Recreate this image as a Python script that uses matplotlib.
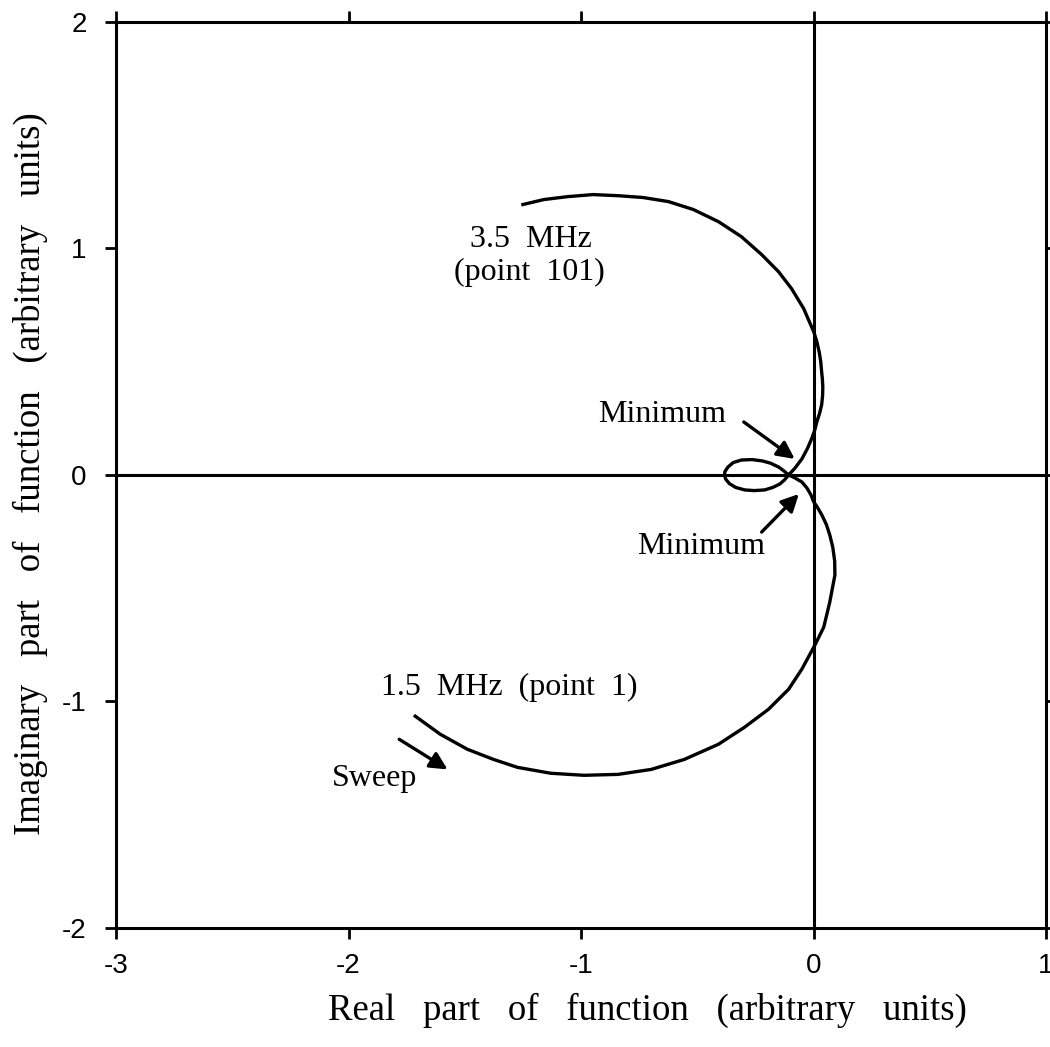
import matplotlib
matplotlib.use('Agg')
import matplotlib.pyplot as plt

# ── Data (real / imaginary part, sweep order) ────────────────────────────────
re_part = [-1.713, -1.605, -1.489, -1.376, -1.273, -1.130, -0.988, -0.841,
           -0.698, -0.556, -0.409, -0.297, -0.193, -0.107, -0.050, 0.006,
           0.044, 0.070, 0.092, 0.091, 0.083, 0.070, 0.055, 0.036, 0.018,
           0.000, -0.010, -0.028, -0.050, -0.080, -0.107,
           -0.130, -0.150, -0.185, -0.220, -0.265, -0.310, -0.345, -0.368,
           -0.381, -0.383, -0.378, -0.362, -0.335, -0.296, -0.255, -0.210,
           -0.175, -0.145, -0.125, -0.107,
           -0.080, -0.050, -0.027, -0.008, 0.005, 0.014, 0.026, 0.035, 0.039,
           0.040, 0.038, 0.035, 0.031, 0.025, 0.014, 0.001, -0.042, -0.094,
           -0.150, -0.223, -0.310, -0.408, -0.517, -0.624, -0.733, -0.840,
           -0.948, -1.056, -1.160, -1.250]
im_part = [-1.065, -1.145, -1.211, -1.256, -1.291, -1.317, -1.326, -1.322,
           -1.300, -1.256, -1.189, -1.114, -1.034, -0.946, -0.857, -0.751,
           -0.672, -0.561, -0.442, -0.380, -0.320, -0.265, -0.218, -0.177,
           -0.145, -0.117, -0.090, -0.058, -0.031, -0.013, 0.000,
           0.020, 0.035, 0.052, 0.062, 0.068, 0.066, 0.055, 0.035,
           0.015, 0.000, -0.018, -0.038, -0.055, -0.066, -0.069, -0.066,
           -0.055, -0.040, -0.022, 0.000,
           0.030, 0.071, 0.115, 0.160, 0.197, 0.234, 0.272, 0.310, 0.350,
           0.390, 0.425, 0.455, 0.500, 0.540, 0.590, 0.632, 0.734, 0.822,
           0.897, 0.973, 1.052, 1.118, 1.172, 1.207, 1.225, 1.233,
           1.238, 1.229, 1.216, 1.194]

x_ticks = [-3, -2, -1, 0, 1]
y_ticks = [-2, -1, 0, 1, 2]

SERIF = ['Liberation Serif', 'DejaVu Serif']
SANS = ['Liberation Sans', 'DejaVu Sans']

fig = plt.figure(figsize=(10.5, 10.47), dpi=100)
ax = fig.add_axes([0.1105, 0.1137, 0.8857, 0.8653])

ax.plot(re_part, im_part, color='black', lw=2.4, solid_joinstyle='round', zorder=3)
ax.axhline(0, color='black', lw=2.2, zorder=2)
ax.axvline(0, color='black', lw=2.2, zorder=2)

ax.set_xlim(-3, 1)
ax.set_ylim(-2, 2)
ax.set_xticks(x_ticks)
ax.set_yticks(y_ticks)
ax.set_xticklabels([str(t) for t in x_ticks], family=SANS, fontsize=20)
ax.set_yticklabels([str(t) for t in y_ticks], family=SANS, fontsize=20)
ax.tick_params(direction='out', length=8, width=2, top=True, right=True,
               labeltop=False, labelright=False)
ax.tick_params(axis='x', pad=10)
ax.tick_params(axis='y', pad=13)
for sp in ax.spines.values():
    sp.set_linewidth(2.2)
    sp.set_clip_on(False)

# ── Annotations ──────────────────────────────────────────────────────────────
txt = dict(family=SERIF, fontsize=23, ha='center', va='center')
arrow = dict(arrowstyle='-|>', lw=2.4, color='black', mutation_scale=26,
             shrinkA=0, shrinkB=0)

ax.text(-1.215, 1.04, '3.5  MHz', **txt)
ax.text(-1.222, 0.895, '(point  101)', **txt)
ax.text(-1.31, -0.94, '1.5  MHz  (point  1)', **txt)
ax.text(-1.889, -1.34, 'Sweep', **txt)
ax.text(-0.65, 0.265, 'Minimum', **txt)
ax.text(-0.482, -0.318, 'Minimum', **txt)

ax.annotate('', xy=(-1.574, -1.300), xytext=(-1.782, -1.167), arrowprops=arrow)
ax.annotate('', xy=(-0.081, 0.071), xytext=(-0.300, 0.234), arrowprops=arrow)
ax.annotate('', xy=(-0.063, -0.084), xytext=(-0.223, -0.252), arrowprops=arrow)

fig.text(647 / 1050, 1 - 1010 / 1047, 'Real   part   of   function   (arbitrary   units)',
         family=SERIF, fontsize=26.5, ha='center', va='center')
fig.text(30 / 1050, 1 - 474 / 1047, 'Imaginary   part   of   function   (arbitrary   units)',
         family=SERIF, fontsize=26.5, ha='center', va='center', rotation=90)

fig.savefig('out.png', dpi=100)
